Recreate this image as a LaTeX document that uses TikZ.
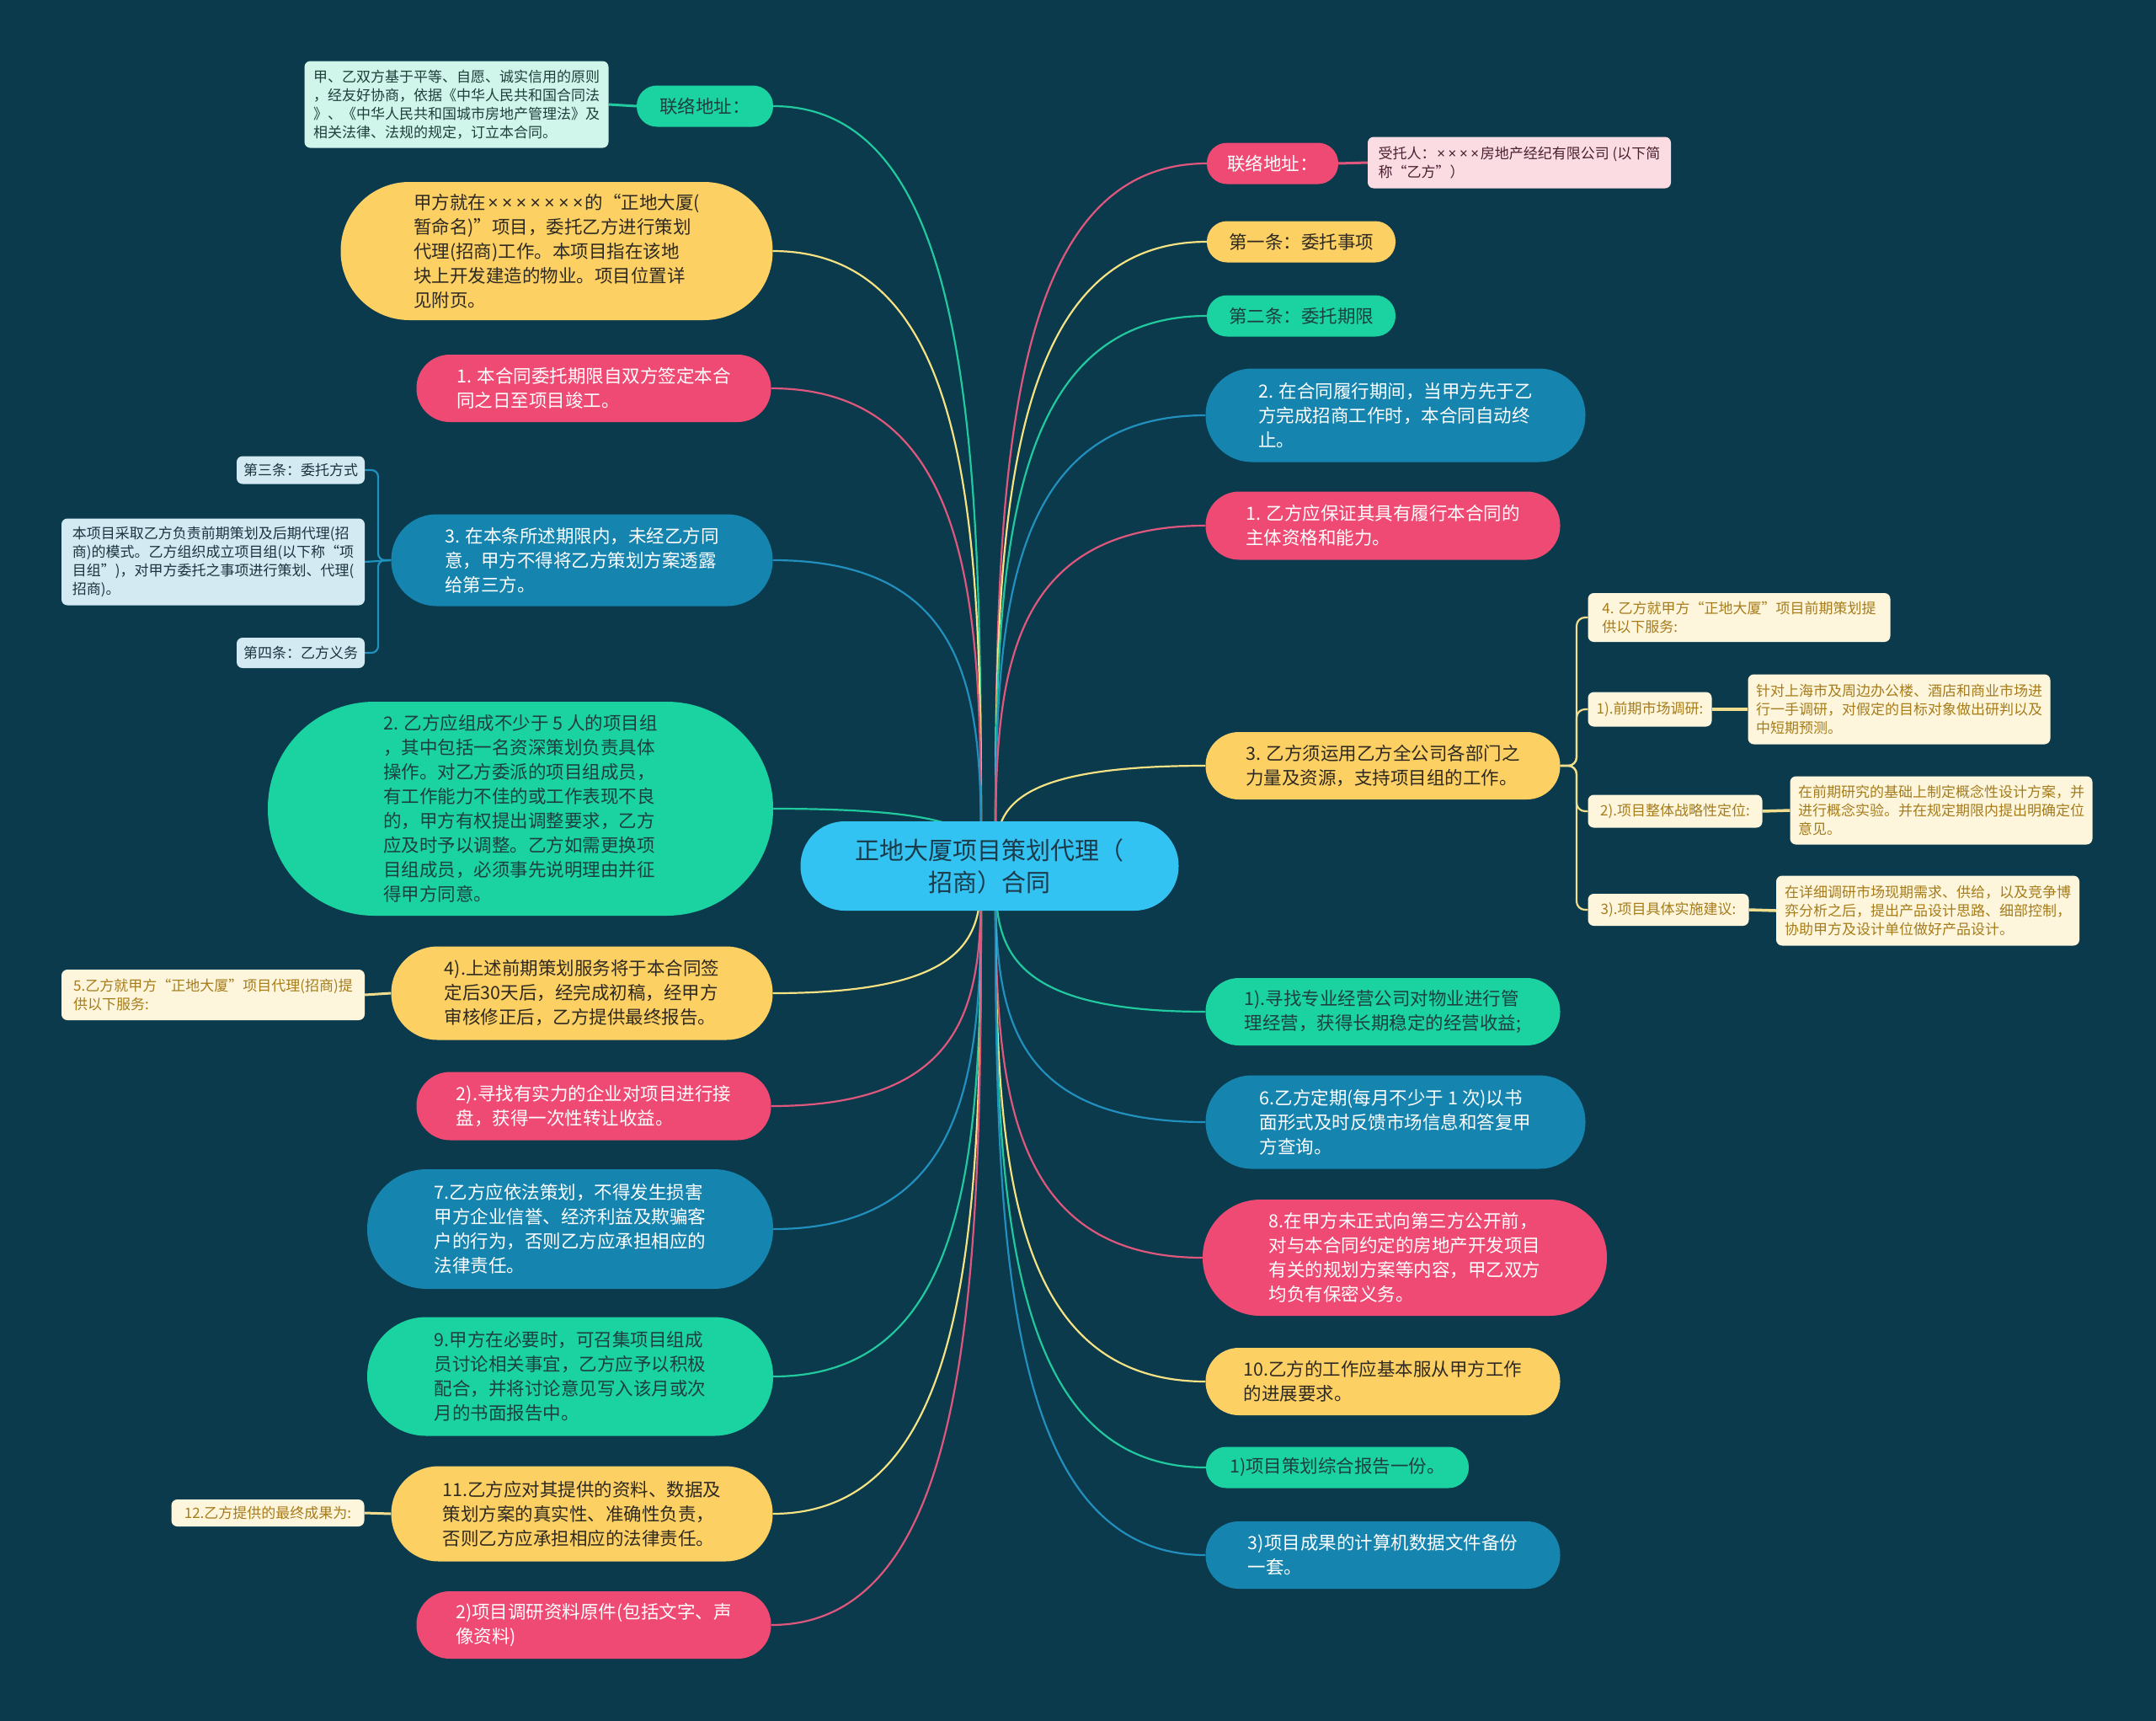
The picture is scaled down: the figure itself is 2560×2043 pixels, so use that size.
\documentclass[tikz,border=0pt]{standalone}
\usepackage{fontspec}
\setmainfont{Noto Sans CJK SC}
\newfontfamily\latf{Noto Sans}
\newcommand\tms{\makebox[0.78em]{\latf ×}}
\usetikzlibrary{calc}
\pgfdeclarelayer{bg}
\pgfdeclarelayer{edges}
\pgfsetlayers{bg,edges,main}
\definecolor{bgc}{HTML}{0B3A4C}
\definecolor{cgreen}{HTML}{1BD3A0}
\definecolor{cyellow}{HTML}{FDD064}
\definecolor{cpink}{HTML}{EF4A73}
\definecolor{cblue}{HTML}{1584AE}
\definecolor{ccenter}{HTML}{33C3F2}
\definecolor{tgreen}{HTML}{1E3F42}
\definecolor{tyellow}{HTML}{2E2A22}
\definecolor{tcenter}{HTML}{1B3A4A}
\definecolor{lmint}{HTML}{D0F5EB}
\definecolor{lpink}{HTML}{FCDCE3}
\definecolor{lblue}{HTML}{D3EAF2}
\definecolor{lcream}{HTML}{FEF6DC}
\definecolor{tmint}{HTML}{1F3F3A}
\definecolor{tpinkbox}{HTML}{4A2030}
\definecolor{tbluebox}{HTML}{1C3440}
\definecolor{tcream}{HTML}{A67C1B}
\definecolor{gline}{HTML}{21C99E}
\definecolor{yline}{HTML}{F5E283}
\definecolor{pline}{HTML}{E0577D}
\definecolor{bline}{HTML}{2290BE}
\definecolor{crline}{HTML}{F0DE8E}
\newcommand\mfont{\fontsize{21.5}{29}\selectfont}
\newcommand\sfont{\fontsize{17}{22}\selectfont}
\newcommand\cfont{\fontsize{29}{38}\selectfont}
\tikzset{
  base/.style={rectangle, inner sep=0pt, align=left},
  gnode/.style={base, fill=cgreen, text=tgreen, font=\mfont},
  ynode/.style={base, fill=cyellow, text=tyellow, font=\mfont},
  pnode/.style={base, fill=cpink, text=white, font=\mfont},
  bnode/.style={base, fill=cblue, text=white, font=\mfont},
  cnode/.style={base, fill=ccenter, text=tcenter, font=\cfont, align=center},
  sbox/.style={rectangle, rounded corners=7pt, inner sep=0pt, align=left, font=\sfont},
  mintbox/.style={sbox, fill=lmint, text=tmint},
  pinkbox/.style={sbox, fill=lpink, text=tpinkbox},
  bluebox/.style={sbox, fill=lblue, text=tbluebox},
  creambox/.style={sbox, fill=lcream, text=tcream},
  curve/.style={line width=2.2pt},
  twig/.style={line width=3pt},
}
\newcommand\mnode[7]{%
  \pgfmathsetmacro\rr{#6/2-0.5}%
  \node[#1, minimum width=#5, minimum height=#6, rounded corners=\rr pt] (#2) at (#3,#4) {#7};}
\newcommand\lconn[2]{\draw[curve,#1] (CL) .. controls ($(CL)!0.5!(CL|-#2.east)$) and (CL|-#2.east) .. (#2.east);}
\newcommand\rconn[2]{\draw[curve,#1] (CR) .. controls ($(CR)!0.5!(CR|-#2.west)$) and (CR|-#2.west) .. (#2.west);}
\begin{document}
\begin{tikzpicture}[x=1pt,y=-1pt]
\begin{pgfonlayer}{bg}
\fill[bgc] (0,0) rectangle (2560,2043);
\end{pgfonlayer}
\useasboundingbox (0,0) rectangle (2560,2043);
\coordinate (CL) at (1165,1028);
\coordinate (CR) at (1182,1028);

% center
\mnode{cnode}{C}{1175}{1028}{449}{106}{正地大厦项目策划代理（\\招商）合同}

% left
\mnode{gnode}{L1}{837}{126}{162}{49}{联络地址：}
\mnode{ynode}{L2}{661}{298}{513}{164}{甲方就在\tms\tms\tms\tms\tms\tms\tms 的“正地大厦(\\暂命名)”项目，委托乙方进行策划\\代理(招商)工作。本项目指在该地\\块上开发建造的物业。项目位置详\\见附页。}
\mnode{pnode}{L3}{705}{461}{421}{80}{1. 本合同委托期限自双方签定本合\\同之日至项目竣工。}
\mnode{bnode}{L4}{691}{665}{453}{109}{3. 在本条所述期限内，未经乙方同\\意，甲方不得将乙方策划方案透露\\给第三方。}
\mnode{gnode}{L5}{618}{960}{600}{254}{2. 乙方应组成不少于 5 人的项目组\\，其中包括一名资深策划负责具体\\操作。对乙方委派的项目组成员，\\有工作能力不佳的或工作表现不良\\的，甲方有权提出调整要求，乙方\\应及时予以调整。乙方如需更换项\\目组成员，必须事先说明理由并征\\得甲方同意。}
\mnode{ynode}{L6}{691}{1179}{453}{111}{4).上述前期策划服务将于本合同签\\定后30天后，经完成初稿，经甲方\\审核修正后，乙方提供最终报告。}
\mnode{pnode}{L7}{705}{1313}{421}{81}{2).寻找有实力的企业对项目进行接\\盘，获得一次性转让收益。}
\mnode{bnode}{L8}{677}{1459}{482}{142}{7.乙方应依法策划，不得发生损害\\甲方企业信誉、经济利益及欺骗客\\户的行为，否则乙方应承担相应的\\法律责任。}
\mnode{gnode}{L9}{677}{1634}{482}{141}{9.甲方在必要时，可召集项目组成\\员讨论相关事宜，乙方应予以积极\\配合，并将讨论意见写入该月或次\\月的书面报告中。}
\mnode{ynode}{L10}{691}{1797}{453}{113}{11.乙方应对其提供的资料、数据及\\策划方案的真实性、准确性负责，\\否则乙方应承担相应的法律责任。}
\mnode{pnode}{L11}{705}{1929}{421}{80}{2)项目调研资料原件(包括文字、声\\像资料)}

% right
\mnode{pnode}{R1}{1511}{194}{156}{49}{联络地址：}
\mnode{ynode}{R2}{1545}{287}{224}{49}{第一条：委托事项}
\mnode{gnode}{R3}{1545}{375}{224}{49}{第二条：委托期限}
\mnode{bnode}{R4}{1657}{493}{451}{111}{2. 在合同履行期间，当甲方先于乙\\方完成招商工作时，本合同自动终\\止。}
\mnode{pnode}{R5}{1642}{624}{421}{81}{1. 乙方应保证其具有履行本合同的\\主体资格和能力。}
\mnode{ynode}{R6}{1642}{909}{421}{80}{3. 乙方须运用乙方全公司各部门之\\力量及资源，支持项目组的工作。}
\mnode{gnode}{R7}{1642}{1201}{421}{80}{1).寻找专业经营公司对物业进行管\\理经营，获得长期稳定的经营收益;}
\mnode{bnode}{R8}{1657}{1332}{451}{111}{6.乙方定期(每月不少于 1 次)以书\\面形式及时反馈市场信息和答复甲\\方查询。}
\mnode{pnode}{R9}{1668}{1493}{480}{138}{8.在甲方未正式向第三方公开前，\\对与本合同约定的房地产开发项目\\有关的规划方案等内容，甲乙双方\\均负有保密义务。}
\mnode{ynode}{R10}{1642}{1640}{421}{80}{10.乙方的工作应基本服从甲方工作\\的进展要求。}
\mnode{gnode}{R11}{1588}{1742}{312}{49}{1)项目策划综合报告一份。}
\mnode{bnode}{R12}{1642}{1846}{421}{80}{3)项目成果的计算机数据文件备份\\一套。}

% small boxes
\node[mintbox, minimum width=361, minimum height=103] (TL) at (542,124) {甲、乙双方基于平等、自愿、诚实信用的原则\\，经友好协商，依据《中华人民共和国合同法\\》、《中华人民共和国城市房地产管理法》及\\相关法律、法规的规定，订立本合同。};
\node[pinkbox, minimum width=360, minimum height=61] (PB) at (1804,193) {受托人：\tms\tms\tms\tms 房地产经纪有限公司 (以下简\\称“乙方”）};
\node[bluebox, minimum width=152, minimum height=33] (B1) at (357,558) {第三条：委托方式};
\node[bluebox, minimum width=360, minimum height=103] (B2) at (253,667) {本项目采取乙方负责前期策划及后期代理(招\\商)的模式。乙方组织成立项目组(以下称“项\\目组”)，对甲方委托之事项进行策划、代理(\\招商)。};
\node[bluebox, minimum width=152, minimum height=36] (B3) at (357,775) {第四条：乙方义务};
\node[creambox, minimum width=360, minimum height=60] (Y5) at (253,1181) {5.乙方就甲方“正地大厦”项目代理(招商)提\\供以下服务:};
\node[creambox, minimum width=229, minimum height=32] (Y12) at (318,1796) {12.乙方提供的最终成果为:};
\node[creambox, minimum width=359, minimum height=58] (C1) at (2065,733) {4. 乙方就甲方“正地大厦”项目前期策划提\\供以下服务:};
\node[creambox, minimum width=147, minimum height=41] (C2) at (1959,842) {1).前期市场调研:};
\node[creambox, minimum width=359, minimum height=83] (G1) at (2255,842) {针对上海市及周边办公楼、酒店和商业市场进\\行一手调研，对假定的目标对象做出研判以及\\中短期预测。};
\node[creambox, minimum width=207, minimum height=39] (C3) at (1989,963) {2).项目整体战略性定位:};
\node[creambox, minimum width=359, minimum height=81] (G2) at (2305,962) {在前期研究的基础上制定概念性设计方案，并\\进行概念实验。并在规定期限内提出明确定位\\意见。};
\node[creambox, minimum width=191, minimum height=38] (C4) at (1981,1080) {3).项目具体实施建议:};
\node[creambox, minimum width=360, minimum height=83] (G3) at (2289,1081) {在详细调研市场现期需求、供给，以及竞争博\\弈分析之后，提出产品设计思路、细部控制，\\协助甲方及设计单位做好产品设计。};

\begin{pgfonlayer}{edges}
\lconn{gline}{L1}
\lconn{yline}{L2}
\lconn{pline}{L3}
\lconn{bline}{L4}
\lconn{gline}{L5}
\lconn{yline}{L6}
\lconn{pline}{L7}
\lconn{bline}{L8}
\lconn{gline}{L9}
\lconn{yline}{L10}
\lconn{pline}{L11}
\rconn{pline}{R1}
\rconn{yline}{R2}
\rconn{gline}{R3}
\rconn{bline}{R4}
\rconn{pline}{R5}
\rconn{yline}{R6}
\rconn{gline}{R7}
\rconn{bline}{R8}
\rconn{pline}{R9}
\rconn{yline}{R10}
\rconn{gline}{R11}
\rconn{bline}{R12}
% children
\draw[twig, gline] (L1.west) -- (TL.east);
\draw[twig, pline] (R1.east) -- (PB.west);
\draw[curve, bline, rounded corners=8pt] (L4.west) -- (449,665) -- (449,558) -- (B1.east);
\draw[curve, bline] (L4.west) -- (B2.east);
\draw[curve, bline, rounded corners=8pt] (L4.west) -- (449,665) -- (449,775) -- (B3.east);
\draw[twig, crline] (L6.west) -- (Y5.east);
\draw[twig, crline] (L10.west) -- (Y12.east);
\draw[curve, crline, rounded corners=10pt] (R6.east) -- (1872,909) -- (1872,733) -- (C1.west);
\draw[curve, crline, rounded corners=10pt] (R6.east) -- (1872,909) -- (1872,842) -- (C2.west);
\draw[curve, crline, rounded corners=10pt] (R6.east) -- (1872,909) -- (1872,963) -- (C3.west);
\draw[curve, crline, rounded corners=10pt] (R6.east) -- (1872,909) -- (1872,1080) -- (C4.west);
\draw[line width=3.5pt, crline] (C2.east) -- (G1.west);
\draw[line width=3.5pt, crline] (C3.east) -- (G2.west);
\draw[line width=3.5pt, crline] (C4.east) -- (G3.west);
\end{pgfonlayer}
\end{tikzpicture}
\end{document}
